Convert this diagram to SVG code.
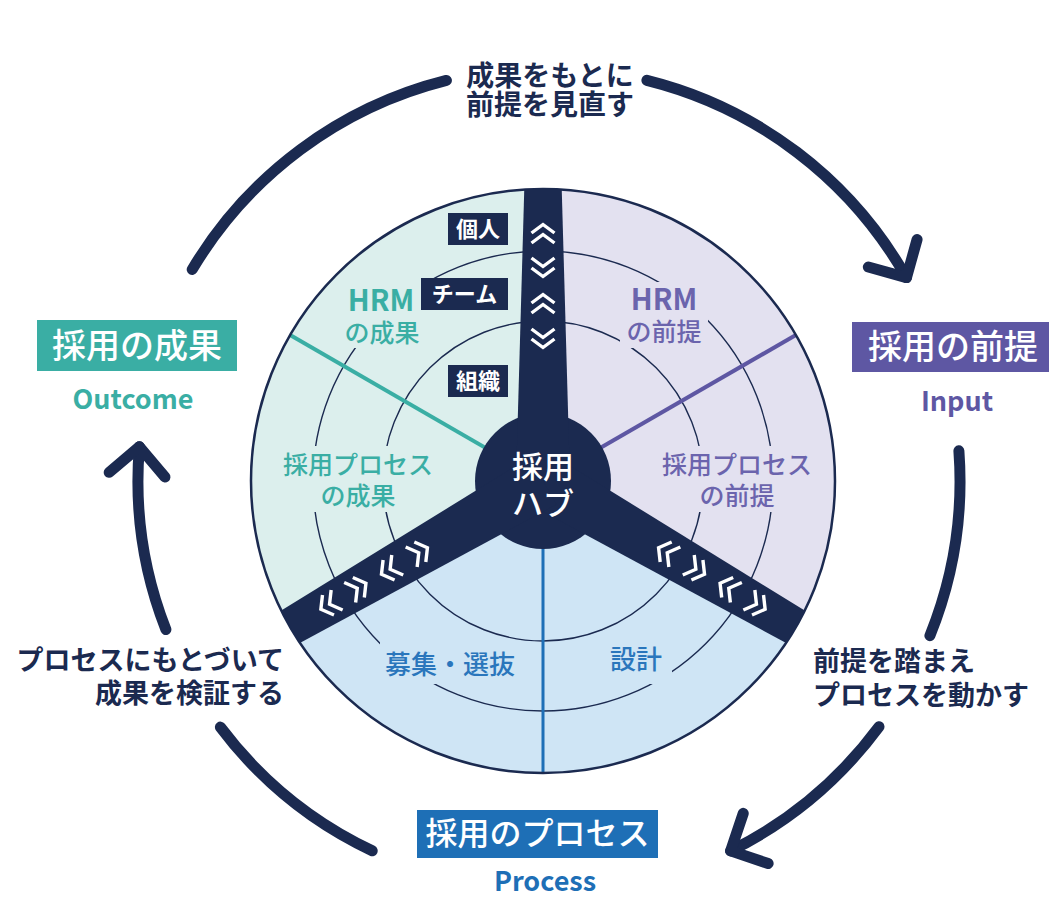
<svg xmlns="http://www.w3.org/2000/svg" xmlns:xlink="http://www.w3.org/1999/xlink" width="1049" height="899" viewBox="0 0 1049 899">
<defs>
<style>
text{font-family:"Noto Sans CJK JP","Noto Sans",sans-serif}
.navy{fill:#1b2a50}
.cap{font-size:27px;font-weight:700;fill:#1b2a50}
.boxlbl{font-size:34px;font-weight:500;fill:#ffffff;text-anchor:middle}
.en{font-size:27px;font-weight:700;text-anchor:middle}
.sec{font-size:25px;font-weight:500;text-anchor:middle}
.hrm{font-size:29px;font-weight:700;text-anchor:middle}
.tag{font-size:22px;font-weight:700;fill:#ffffff;text-anchor:middle}
.ring{fill:none;stroke:#1b2a50;stroke-width:1.4}
.big{fill:none;stroke:#1b2a50;stroke-width:11;stroke-linecap:round}
.chev{fill:none;stroke:#ffffff;stroke-width:3.4;stroke-linejoin:miter}
</style>
<clipPath id="disc"><circle cx="543" cy="481" r="292"/></clipPath>
<mask id="gaps" maskUnits="userSpaceOnUse" x="0" y="0" width="1049" height="899">
<rect x="0" y="0" width="1049" height="899" fill="#fff"/>
<rect x="340" y="282" width="85" height="66" fill="#000"/>
<rect x="620" y="282" width="88" height="66" fill="#000"/>
<rect x="276" y="446" width="164" height="66" fill="#000"/>
<rect x="653" y="446" width="168" height="66" fill="#000"/>
<rect x="380" y="642" width="140" height="42" fill="#000"/>
<rect x="600" y="642" width="72" height="42" fill="#000"/>
</mask>
<marker id="head" markerUnits="userSpaceOnUse" markerWidth="80" markerHeight="80" refX="0" refY="0" viewBox="-40 -40 80 80" orient="auto" overflow="visible">
<path d="M-28,-28 L0,0 L-28,28" fill="none" stroke="#1b2a50" stroke-width="11" stroke-linecap="round" stroke-linejoin="round"/>
</marker>
<g id="chev">
<path class="chev" d="M-11.5,-1 L0,-9.5 L11.5,-1"/>
<path class="chev" d="M-11.5,9 L0,0.5 L11.5,9"/>
</g>
</defs>

<rect x="0" y="0" width="1049" height="899" fill="#ffffff"/>

<g id="wheel">
<path d="M543,481 L543,189 A292,292 0 0 0 290.1,627 Z" fill="#dcefed"/>
<path d="M543,481 L543,189 A292,292 0 0 1 795.9,627 Z" fill="#e3e1f0"/>
<path d="M543,481 L795.9,627 A292,292 0 0 1 290.1,627 Z" fill="#cfe5f5"/>
<g mask="url(#gaps)">
<circle class="ring" cx="543" cy="481" r="160"/>
<circle class="ring" cx="543" cy="481" r="230"/>
</g>
<line x1="543" y1="481" x2="290.1" y2="335" stroke="#3aaea4" stroke-width="4"/>
<line x1="543" y1="481" x2="795.9" y2="335" stroke="#5e57a3" stroke-width="4"/>
<line x1="543" y1="481" x2="543" y2="773" stroke="#1e6fb6" stroke-width="3"/>
<circle cx="543" cy="481" r="292" fill="none" stroke="#1b2a50" stroke-width="2.5"/>
</g>

<g id="hub" clip-path="url(#disc)">
<circle class="navy" cx="543" cy="481" r="68"/>
<path class="navy" d="M-27,0 L-18.5,-300 L18.5,-300 L27,0 Z" transform="translate(543,481)"/>
<path class="navy" d="M-27,0 L-18.5,-300 L18.5,-300 L27,0 Z" transform="translate(543,481) rotate(120)"/>
<path class="navy" d="M-27,0 L-18.5,-300 L18.5,-300 L27,0 Z" transform="translate(543,481) rotate(240)"/>
<text x="543" y="478" style="font-size:31px;font-weight:500;fill:#fff;text-anchor:middle">採用</text>
<text x="543" y="515" style="font-size:31px;font-weight:500;fill:#fff;text-anchor:middle">ハブ</text>
</g>

<g id="chevrons">
<use xlink:href="#chev" transform="translate(543,338) rotate(180)"/>
<use xlink:href="#chev" transform="translate(543,304)"/>
<use xlink:href="#chev" transform="translate(543,267) rotate(180)"/>
<use xlink:href="#chev" transform="translate(543,234)"/>
<use xlink:href="#chev" transform="translate(419.2,552.5) rotate(60)"/>
<use xlink:href="#chev" transform="translate(389.7,569.5) rotate(240)"/>
<use xlink:href="#chev" transform="translate(357.7,588) rotate(60)"/>
<use xlink:href="#chev" transform="translate(329.1,604.5) rotate(240)"/>
<use xlink:href="#chev" transform="translate(666.8,552.5) rotate(300)"/>
<use xlink:href="#chev" transform="translate(696.3,569.5) rotate(120)"/>
<use xlink:href="#chev" transform="translate(728.3,588) rotate(300)"/>
<use xlink:href="#chev" transform="translate(756.9,604.5) rotate(120)"/>
</g>

<g id="level-individual">
<rect class="navy" x="448" y="213" width="60" height="32"/>
<text class="tag" x="478" y="237">個人</text>
</g>
<g id="level-team">
<rect class="navy" x="421" y="278" width="87" height="32"/>
<text class="tag" x="464.5" y="302">チーム</text>
</g>
<g id="level-org">
<rect class="navy" x="448" y="365" width="60" height="32"/>
<text class="tag" x="478" y="389">組織</text>
</g>

<g id="sector-labels">
<text class="hrm" x="381" y="311" fill="#3aaea4">HRM</text>
<text class="sec" x="382" y="342" fill="#3aaea4">の成果</text>
<text class="hrm" x="664" y="310" fill="#6b64ad">HRM</text>
<text class="sec" x="664" y="341" fill="#6b64ad">の前提</text>
<text class="sec" x="358" y="474" fill="#3aaea4">採用プロセス</text>
<text class="sec" x="358" y="505" fill="#3aaea4">の成果</text>
<text class="sec" x="737" y="474" fill="#6b64ad">採用プロセス</text>
<text class="sec" x="737" y="505" fill="#6b64ad">の前提</text>
<text class="sec" x="450" y="674" fill="#2a76bc" style="font-size:26px">募集・選抜</text>
<text class="sec" x="636" y="669" fill="#2a76bc" style="font-size:26px">設計</text>
</g>

<g id="outcome">
<rect x="37" y="320" width="200" height="51" fill="#3aaea4"/>
<text class="boxlbl" x="137" y="358">採用の成果</text>
<text class="en" x="133" y="409" fill="#3aaea4">Outcome</text>
</g>
<g id="input">
<rect x="852" y="322" width="200" height="50" fill="#5e57a3"/>
<text class="boxlbl" x="953" y="359">採用の前提</text>
<text class="en" x="957" y="411" fill="#5e57a3">Input</text>
</g>
<g id="process">
<rect x="417" y="810" width="241" height="48" fill="#1e6fb6"/>
<text class="boxlbl" x="537.5" y="845" style="font-size:32px">採用のプロセス</text>
<text class="en" x="545" y="891" fill="#1e6fb6">Process</text>
</g>

<g id="connectors">
<path class="big" d="M192.2,269.5 A413,413 0 0 1 446.4,80.4"/>
<path class="big" d="M646.9,80.3 A413,413 0 0 1 906.5,277.6" marker-end="url(#head)"/>
<path class="big" d="M958.9,450.8 A413,413 0 0 1 929.9,635.7"/>
<path class="big" d="M879,726.7 A413,413 0 0 1 730.6,850.9" marker-end="url(#head)"/>
<path class="big" d="M372.2,850.8 A409,409 0 0 1 220.4,727.1"/>
<path class="big" d="M165.9,629.6 A409,409 0 0 1 139.4,446.8" marker-end="url(#head)"/>
</g>

<g id="captions">
<text class="cap" x="550" y="86" text-anchor="middle" style="font-size:28px">成果をもとに</text>
<text class="cap" x="550" y="115" text-anchor="middle" style="font-size:28px">前提を見直す</text>
<text class="cap" x="813" y="671">前提を踏まえ</text>
<text class="cap" x="813" y="705">プロセスを動かす</text>
<text class="cap" x="284" y="670" text-anchor="end">プロセスにもとづいて</text>
<text class="cap" x="284" y="703" text-anchor="end">成果を検証する</text>
</g>
</svg>
